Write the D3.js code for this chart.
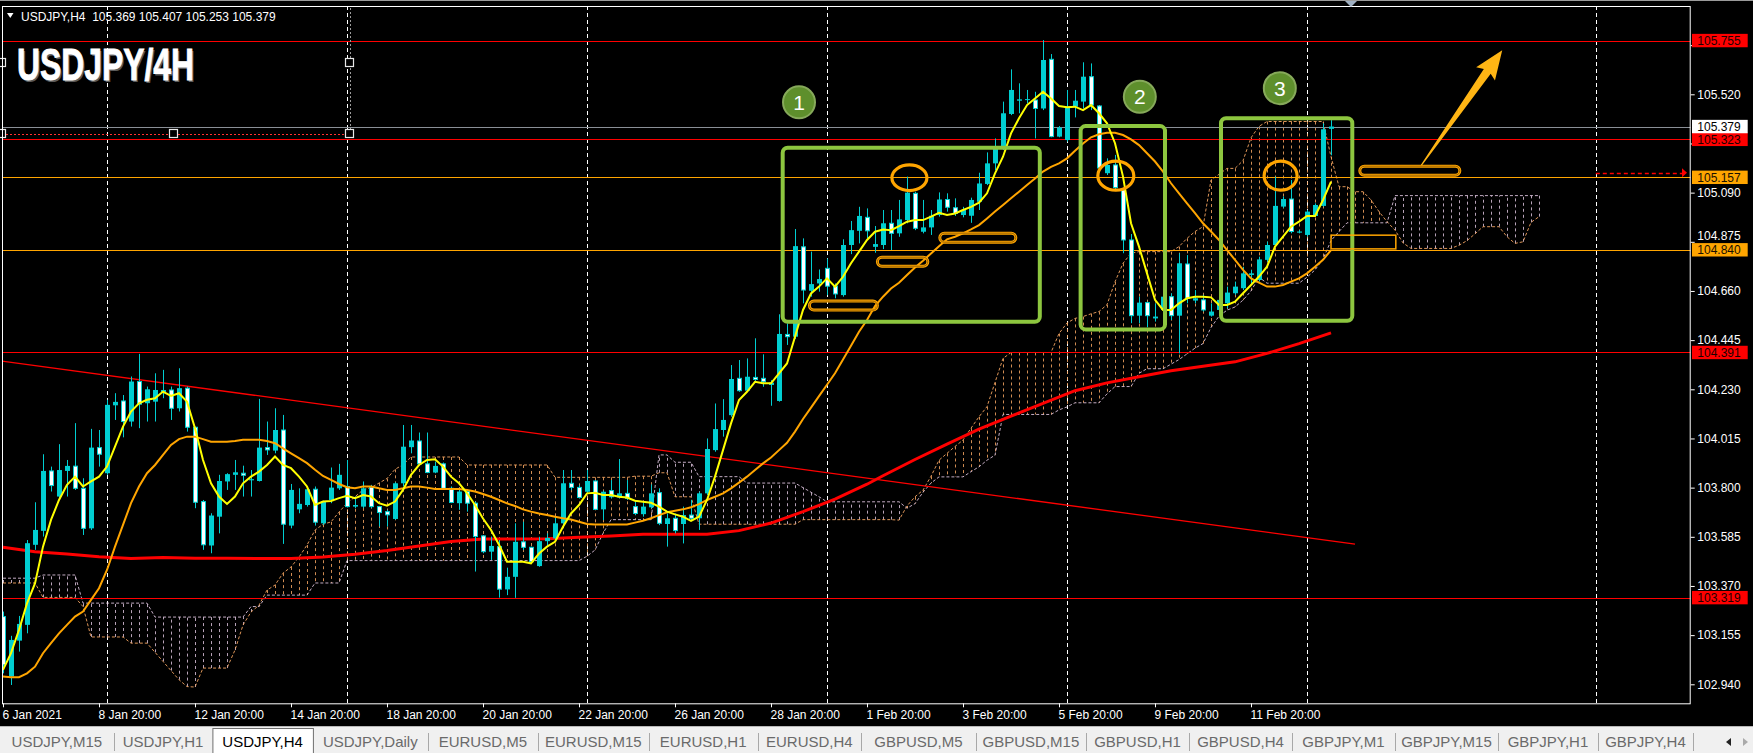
<!DOCTYPE html>
<html><head><meta charset="utf-8">
<script src="https://cdn.jsdelivr.net/npm/d3@7"></script>
<style>body{margin:0;background:#000;overflow:hidden}svg{display:block}</style>
</head><body>
<svg id="c" width="1753" height="753"></svg>
<script>
// ---------------- DATA ----------------
const symbol = "USDJPY,H4";
const opens=[103.236,102.974,103.131,103.200,103.550,103.611,103.873,103.761,103.873,103.894,
103.797,103.622,103.975,103.863,104.160,104.179,104.089,104.264,104.169,104.176,
104.213,104.227,104.147,104.235,104.064,103.739,103.547,103.673,103.827,103.856,
103.863,103.832,103.829,103.975,103.962,104.052,103.634,103.705,103.724,103.793,
103.644,103.746,103.797,103.805,103.717,103.717,103.802,103.717,103.695,103.663,
103.819,103.977,104.004,103.904,103.866,103.904,103.797,103.732,103.783,103.732,
103.589,103.520,103.542,103.355,103.410,103.563,103.539,103.457,103.566,103.578,
103.644,103.819,103.801,103.782,103.829,103.705,103.787,103.757,103.775,103.717,
103.684,103.714,103.778,103.641,103.666,103.641,103.680,103.666,103.775,103.964,
104.052,104.117,104.278,104.224,104.282,104.278,104.249,104.179,104.470,104.460,
104.853,104.661,104.693,104.759,104.681,104.642,104.861,104.923,104.982,104.853,
104.861,104.956,104.912,104.970,105.087,104.919,104.938,104.992,105.060,105.024,
104.992,104.989,105.050,105.128,105.218,105.284,105.434,105.492,105.496,105.495,
105.458,105.673,105.335,105.320,105.466,105.488,105.597,105.469,105.175,105.211,
105.102,104.883,104.552,104.609,104.540,104.577,104.635,104.552,104.778,104.618,
104.621,104.552,104.577,104.606,104.650,104.672,104.730,104.708,104.796,104.861,
105.029,105.062,104.915,104.905,104.988,105.032,105.369];
const highs=[103.258,103.152,103.239,103.571,103.736,103.946,103.892,103.990,103.921,104.082,
103.841,104.057,104.052,104.184,104.213,104.205,104.286,104.385,104.242,104.300,
104.315,104.242,104.322,104.242,104.067,103.746,103.688,103.856,103.863,103.921,
103.896,103.877,104.188,104.089,104.147,104.118,103.816,103.797,103.797,103.805,
103.743,103.888,103.904,103.921,103.761,103.827,103.812,103.720,103.703,103.824,
104.074,104.074,104.041,104.041,103.914,103.910,103.805,103.790,103.790,103.739,
103.593,103.586,103.571,103.450,103.644,103.651,103.542,103.585,103.600,103.673,
103.877,103.877,103.811,103.877,103.833,103.787,103.833,103.925,103.833,103.738,
103.738,103.814,103.797,103.687,103.687,103.717,103.746,103.782,104.015,104.168,
104.187,104.336,104.358,104.365,104.453,104.383,104.270,104.558,104.518,104.931,
104.890,104.832,104.754,104.802,104.693,104.886,104.966,105.028,105.021,104.944,
105.014,105.014,105.058,105.160,105.094,105.058,105.014,105.091,105.087,105.065,
105.028,105.068,105.177,105.266,105.327,105.488,105.629,105.568,105.539,105.531,
105.757,105.696,105.381,105.539,105.539,105.660,105.655,105.473,105.240,105.255,
105.109,104.909,104.635,104.613,104.606,104.650,104.650,104.825,104.817,104.664,
104.643,104.606,104.635,104.679,104.701,104.766,104.752,104.810,104.876,105.160,
105.073,105.145,104.927,105.014,105.043,105.393,105.407];
const lows=[102.988,102.937,103.083,103.163,103.528,103.586,103.783,103.746,103.761,103.790,
103.593,103.615,103.892,103.856,104.096,104.020,104.067,104.060,104.089,104.089,
104.191,104.096,104.133,104.045,103.710,103.528,103.513,103.600,103.790,103.790,
103.761,103.761,103.827,103.943,103.950,103.554,103.622,103.688,103.717,103.634,
103.637,103.732,103.790,103.713,103.710,103.710,103.710,103.630,103.630,103.659,
103.805,103.950,103.899,103.863,103.863,103.790,103.732,103.703,103.695,103.433,
103.513,103.484,103.319,103.330,103.318,103.527,103.469,103.454,103.540,103.571,
103.629,103.789,103.753,103.775,103.702,103.658,103.753,103.753,103.746,103.680,
103.673,103.709,103.636,103.542,103.600,103.556,103.658,103.615,103.768,103.957,
104.023,104.110,104.219,104.219,104.263,104.241,104.158,104.176,104.424,104.450,
104.606,104.635,104.657,104.642,104.628,104.635,104.821,104.868,104.890,104.827,
104.843,104.839,104.897,104.956,104.926,104.912,104.905,104.985,105.007,104.988,
104.982,104.958,105.014,105.123,105.189,105.276,105.429,105.437,105.480,105.327,
105.451,105.332,105.332,105.313,105.419,105.458,105.451,105.189,105.167,105.102,
104.825,104.519,104.519,104.501,104.526,104.519,104.533,104.387,104.606,104.606,
104.570,104.548,104.570,104.584,104.643,104.664,104.686,104.701,104.788,104.854,
105.022,104.912,104.912,104.898,104.985,105.029,105.253];
const closes=[103.025,103.134,103.204,103.557,103.615,103.873,103.809,103.877,103.895,103.797,
103.622,103.975,103.946,104.162,104.175,104.089,104.264,104.165,104.230,104.227,
104.227,104.147,104.235,104.064,103.736,103.550,103.678,103.829,103.859,103.867,
103.854,103.837,103.975,103.965,104.052,103.640,103.790,103.729,103.793,103.649,
103.739,103.800,103.856,103.717,103.724,103.797,103.717,103.691,103.681,103.819,
103.979,104.006,103.904,103.866,103.895,103.797,103.735,103.783,103.732,103.586,
103.520,103.545,103.356,103.410,103.563,103.539,103.476,103.566,103.580,103.644,
103.819,103.801,103.757,103.829,103.705,103.782,103.760,103.775,103.753,103.687,
103.717,103.775,103.644,103.666,103.612,103.680,103.666,103.775,103.969,104.056,
104.096,104.275,104.224,104.285,104.273,104.263,104.259,104.472,104.460,104.856,
104.664,104.690,104.712,104.681,104.647,104.861,104.926,104.988,104.923,104.865,
104.956,104.912,104.973,105.090,104.934,104.938,104.989,105.060,105.026,104.999,
105.014,105.058,105.130,105.218,105.291,105.437,105.539,105.498,105.499,105.458,
105.670,105.335,105.375,105.466,105.492,105.597,105.473,105.198,105.211,105.112,
104.883,104.552,104.609,104.552,104.548,104.635,104.552,104.781,104.628,104.628,
104.577,104.570,104.621,104.653,104.679,104.737,104.737,104.798,104.861,105.032,
105.062,104.920,104.920,105.007,105.036,105.367,105.379];

const maFast=[103.003,103.076,103.178,103.294,103.381,103.542,103.659,103.746,103.812,103.848,
103.805,103.827,103.848,103.892,103.979,104.067,104.133,104.169,104.184,104.191,
104.220,104.201,104.213,104.176,104.060,103.921,103.819,103.761,103.729,103.761,
103.819,103.848,103.870,103.899,103.936,103.899,103.885,103.848,103.805,103.724,
103.739,103.742,103.754,103.764,103.754,103.768,103.761,103.732,103.721,103.739,
103.790,103.856,103.899,103.921,103.924,103.892,103.848,103.819,103.776,103.724,
103.665,103.615,103.550,103.476,103.476,103.476,103.469,103.512,103.542,103.563,
103.629,103.687,103.724,103.775,103.778,103.768,103.768,103.760,103.757,103.743,
103.738,103.734,103.717,103.695,103.683,103.673,103.655,103.673,103.746,103.848,
103.964,104.081,104.183,104.219,104.263,104.256,104.256,104.300,104.343,104.460,
104.577,104.649,104.679,104.715,104.679,104.722,104.781,104.832,104.883,104.919,
104.929,104.926,104.944,104.963,104.970,104.970,104.985,105.002,104.992,104.999,
105.014,105.028,105.046,105.087,105.174,105.247,105.349,105.415,105.473,105.502,
105.531,105.502,105.469,105.463,105.466,105.451,105.473,105.437,105.393,105.306,
105.160,104.956,104.854,104.737,104.621,104.577,104.577,104.606,104.628,104.635,
104.635,104.632,104.599,104.599,104.613,104.650,104.686,104.723,104.766,104.854,
104.898,104.941,104.963,104.988,104.988,105.058,105.138];
const maMid=[102.974,102.971,102.971,102.988,103.017,103.076,103.120,103.163,103.200,103.236,
103.258,103.309,103.360,103.440,103.542,103.637,103.732,103.805,103.863,103.899,
103.943,103.987,104.012,104.023,104.023,104.012,104.001,104.001,104.001,104.004,
104.009,104.009,104.009,104.004,103.994,103.972,103.950,103.929,103.907,103.878,
103.851,103.834,103.816,103.802,103.797,103.805,103.805,103.797,103.790,103.790,
103.797,103.805,103.805,103.800,103.794,103.794,103.794,103.794,103.790,103.783,
103.772,103.760,103.746,103.731,103.720,103.705,103.695,103.687,103.680,103.673,
103.666,103.661,103.651,103.641,103.639,103.639,103.639,103.639,103.639,103.647,
103.655,103.666,103.680,103.692,103.699,103.705,103.714,103.728,103.746,103.760,
103.775,103.797,103.822,103.848,103.877,103.906,103.932,103.964,103.996,104.045,
104.100,104.150,104.200,104.250,104.300,104.360,104.420,104.482,104.533,104.594,
104.635,104.671,104.696,104.730,104.763,104.792,104.824,104.856,104.886,104.897,
104.912,104.929,104.948,104.977,105.007,105.036,105.065,105.094,105.123,105.152,
105.182,105.203,105.218,105.240,105.273,105.305,105.332,105.345,105.352,105.352,
105.342,105.323,105.298,105.262,105.226,105.182,105.131,105.087,105.043,105.000,
104.956,104.920,104.883,104.839,104.796,104.752,104.715,104.696,104.679,104.679,
104.686,104.701,104.715,104.737,104.766,104.796,104.839];
const maSlowBars=[0,4,8,12,16,20,24,28,32,36,40,44,48,52,56,60,64,68,72,76,80,84,88,92,96,100,104,108,110,114,118,122,126,130,134,138,142,146,150,154,158,162,166];
const maSlow=[103.539,103.520,103.510,103.498,103.490,103.494,103.491,103.491,103.490,103.490,103.497,103.509,103.525,103.545,103.564,103.575,103.575,103.577,103.583,103.588,103.596,103.596,103.596,103.612,103.645,103.695,103.750,103.815,103.852,103.923,103.990,104.056,104.113,104.168,104.224,104.258,104.285,104.311,104.331,104.350,104.387,104.430,104.477];

// Ichimoku senkou spans, bar 0 .. 192 (26 bars projected ahead)
const spanA=[103.383,103.383,103.383,103.383,103.383,103.32,103.32,103.32,103.32,103.32,
103.28,103.147,103.147,103.147,103.147,103.147,103.12,103.12,103.12,103.08,
103.04,103.00,102.96,102.93,102.928,103.011,103.011,103.011,103.011,103.09,
103.199,103.256,103.286,103.352,103.374,103.426,103.453,103.496,103.549,103.614,
103.640,103.650,103.693,103.732,103.76,103.79,103.80,103.82,103.84,103.88,
103.90,103.934,103.934,103.934,103.934,103.934,103.934,103.934,103.899,103.899,
103.899,103.899,103.899,103.899,103.899,103.899,103.899,103.899,103.899,103.845,
103.845,103.845,103.845,103.845,103.845,103.845,103.845,103.845,103.845,103.85,
103.85,103.85,103.865,103.865,103.76,103.76,103.76,103.64,103.64,103.64,
103.64,103.64,103.64,103.64,103.64,103.64,103.64,103.64,103.64,103.64,
103.66,103.66,103.66,103.66,103.66,103.66,103.66,103.66,103.66,103.66,
103.66,103.66,103.658,103.72,103.76,103.789,103.85,103.92,103.95,103.98,
104.008,104.06,104.11,104.154,104.26,104.365,104.391,104.391,104.391,104.391,
104.391,104.391,104.474,104.52,104.54,104.548,104.56,104.57,104.60,104.70,
104.781,104.825,104.832,104.832,104.832,104.832,104.832,104.854,104.89,104.92,
104.941,105.145,105.17,105.196,105.196,105.23,105.33,105.38,105.401,105.401,
105.401,105.401,105.401,105.401,105.401,105.401,105.247,105.116,105.116,105.094,
105.094,105.058,105.007,104.963,104.926,104.87,104.846,104.846,104.846,104.846,
104.846,104.846,104.86,104.88,104.91,104.941,104.941,104.941,104.897,104.868,
104.875,104.96,104.985];
const spanB=[103.404,103.404,103.404,103.404,103.404,103.418,103.418,103.418,103.418,103.418,
103.295,103.295,103.295,103.295,103.295,103.295,103.295,103.295,103.295,103.234,
103.234,103.234,103.234,103.234,103.234,103.234,103.234,103.234,103.234,103.234,
103.234,103.28,103.28,103.330,103.330,103.330,103.330,103.330,103.330,103.383,
103.383,103.383,103.383,103.481,103.481,103.481,103.481,103.481,103.481,103.481,
103.481,103.481,103.481,103.481,103.481,103.481,103.481,103.481,103.481,103.481,
103.481,103.481,103.481,103.481,103.481,103.481,103.481,103.481,103.481,103.481,
103.481,103.481,103.481,103.50,103.527,103.60,103.66,103.66,103.66,103.66,
103.66,103.66,103.943,103.943,103.911,103.911,103.911,103.848,103.848,103.848,
103.848,103.848,103.848,103.82,103.82,103.82,103.82,103.82,103.82,103.82,
103.80,103.78,103.76,103.738,103.738,103.738,103.738,103.738,103.738,103.738,
103.738,103.738,103.738,103.71,103.73,103.78,103.82,103.847,103.847,103.847,
103.847,103.87,103.891,103.92,103.942,104.12,104.12,104.12,104.12,104.12,
104.12,104.12,104.14,104.153,104.171,104.171,104.171,104.171,104.21,104.242,
104.242,104.242,104.30,104.32,104.32,104.32,104.34,104.36,104.385,104.41,
104.43,104.50,104.55,104.576,104.59,104.62,104.66,104.72,104.694,104.694,
104.694,104.694,104.694,104.72,104.752,104.80,104.88,104.92,104.958,104.958,
104.958,104.958,104.958,104.958,105.077,105.077,105.077,105.077,105.077,105.077,
105.077,105.077,105.077,105.077,105.077,105.077,105.077,105.077,105.077,105.077,
105.077,105.077,105.077];

const yTicks=[102.940,103.155,103.370,103.585,103.800,104.015,104.230,104.445,104.660,104.875,105.090,105.305,105.520,105.735];
const yTicksCovered=[105.305,105.735];   // hidden under the price labels
const xTickBars=[0,12,24,36,48,60,72,84,96,108,120,132,144,156];
const xTickLabels=["6 Jan 2021","8 Jan 20:00","12 Jan 20:00","14 Jan 20:00","18 Jan 20:00","20 Jan 20:00","22 Jan 20:00","26 Jan 20:00","28 Jan 20:00","1 Feb 20:00","3 Feb 20:00","5 Feb 20:00","9 Feb 20:00","11 Feb 20:00"];
const gridBars=[13,43,73,103,133,163,199.1];
const redLevels=[105.755,105.323,104.391,103.319];
const orangeLevels=[105.157,104.840];
const alertPrice=105.177, alertBars=[199.1,210.5];
const trendBars=[-0.5,169], trendPrices=[104.355,103.553];
const selBars=[-0.1,21.4,43.4], selPrices=[105.658,105.346];
// annotations (bar index / price)
const zoneBars=[[97.46,129.6],[134.7,145.25],[152.25,168.66]];
const zonePrices=[[105.286,104.525],[105.381,104.492],[105.415,104.530]];
const badgeLabels=["1","2","3"], badgeBars=[99.5,142.1,159.6], badgePrices=[105.485,105.509,105.547];
const ringBars=[113.3,139.1,159.7], ringPrices=[105.155,105.164,105.164];
const pillStart=[100.8,109.3,117.1,169.6], pillEnd=[109.3,115.6,126.6,182.1], pillPrices=[104.596,104.788,104.893,105.186];
const boxBars=[166,174.1], boxPrices=[104.904,104.844];
const arrowBars=[177.3,187.4], arrowPrices=[105.210,105.713];
const tabNames=["USDJPY,M15","USDJPY,H1","USDJPY,H4","USDJPY,Daily","EURUSD,M5","EURUSD,M15","EURUSD,H1","EURUSD,H4","GBPUSD,M5","GBPUSD,M15","GBPUSD,H1","GBPUSD,H4","GBPJPY,M1","GBPJPY,M15","GBPJPY,H1","GBPJPY,H4"];
const activeTab=2;

// ---------------- LAYOUT ----------------
const L=2, R=1690.7, T=6, B=703.3;
const x=d3.scaleLinear().domain([0,210.96]).range([3,1690.7]);
const y=d3.scaleLinear().domain([102.94,105.52]).range([684.3,94.3]);
const FONT="'Liberation Sans',Arial,sans-serif";
const svg=d3.select('#c');
svg.append('rect').attr('width',1753).attr('height',753).attr('fill','#000');
svg.append('clipPath').attr('id','clip').append('rect').attr('x',L).attr('y',T).attr('width',R-L).attr('height',B-T);
const g=svg.append('g').attr('clip-path','url(#clip)');
const px=v=>Math.round(x(v))+0.5;

// grid verticals
g.selectAll('.grid').data(gridBars).join('line')
 .attr('x1',d=>px(d)).attr('x2',d=>px(d)).attr('y1',T).attr('y2',B)
 .attr('stroke','#fff').attr('stroke-dasharray','4,3');

// Ichimoku cloud
const cIdx=d3.range(spanA.length);
g.selectAll('.hatch').data(cIdx).join('line')
 .attr('x1',i=>px(i)).attr('x2',i=>px(i))
 .attr('y1',i=>y(spanA[i])).attr('y2',i=>y(spanB[i]))
 .attr('stroke',i=>spanA[i]>=spanB[i]?'#F4A460':'#D8BFD8')
 .attr('stroke-opacity',0.85).attr('stroke-dasharray','3,3');
const lineIdx=d3.line().x((d,i)=>x(i)).y(d=>y(d));
g.append('path').attr('d',lineIdx(spanA)).attr('fill','none').attr('stroke','#F4A460').attr('stroke-opacity',0.9).attr('stroke-dasharray','3,2');
g.append('path').attr('d',lineIdx(spanB)).attr('fill','none').attr('stroke','#D8BFD8').attr('stroke-opacity',0.9).attr('stroke-dasharray','3,2');

// horizontal levels
g.selectAll('.rl').data(redLevels).join('line').attr('x1',L).attr('x2',R)
 .attr('y1',d=>Math.round(y(d))+0.5).attr('y2',d=>Math.round(y(d))+0.5).attr('stroke','#ff0000');
g.selectAll('.ol').data(orangeLevels).join('line').attr('x1',L).attr('x2',R)
 .attr('y1',d=>Math.round(y(d))+0.5).attr('y2',d=>Math.round(y(d))+0.5).attr('stroke','#ffa500');
const bid=closes[closes.length-1];
g.append('line').attr('x1',L).attr('x2',R).attr('y1',Math.round(y(bid))+0.5).attr('y2',Math.round(y(bid))+0.5).attr('stroke','#8a8f96');

// trendline
g.append('line').attr('x1',x(trendBars[0])).attr('x2',x(trendBars[1]))
 .attr('y1',y(trendPrices[0])).attr('y2',y(trendPrices[1])).attr('stroke','#ff0000').attr('stroke-width',1.3);

// slow MA
const lineXY=d3.line().x(d=>x(d[0])).y(d=>y(d[1]));
g.append('path').attr('d',lineXY(maSlowBars.map((b,i)=>[b,maSlow[i]]))).attr('fill','none').attr('stroke','#ff0000').attr('stroke-width',3);

// candles
const bars=d3.range(opens.length);
g.selectAll('.wick').data(bars).join('line')
 .attr('x1',i=>px(i)).attr('x2',i=>px(i)).attr('y1',i=>y(highs[i])).attr('y2',i=>y(lows[i]))
 .attr('stroke','#00CED1');
g.selectAll('.body').data(bars).join('rect')
 .attr('x',i=>closes[i]>=opens[i]?Math.round(x(i))-2:Math.round(x(i))-1.5)
 .attr('width',i=>closes[i]>=opens[i]?5:4)
 .attr('y',i=>Math.min(y(opens[i]),y(closes[i])))
 .attr('height',i=>Math.max(1,Math.abs(y(opens[i])-y(closes[i]))))
 .attr('fill',i=>closes[i]>=opens[i]?'#00CED1':'#ffffff')
 .attr('stroke',i=>closes[i]>=opens[i]?'none':'#00CED1');

// MAs
g.append('path').attr('d',lineIdx(maMid)).attr('fill','none').attr('stroke','#FFA500').attr('stroke-width',2);
g.append('path').attr('d',lineIdx(maFast)).attr('fill','none').attr('stroke','#FFFF00').attr('stroke-width',2);

// alert dashed arrow
g.append('line').attr('x1',x(alertBars[0])).attr('x2',x(alertBars[1])-5).attr('y1',Math.round(y(alertPrice))+0.5).attr('y2',Math.round(y(alertPrice))+0.5)
 .attr('stroke','#ff0000').attr('stroke-width',1.3).attr('stroke-dasharray','4,3');
{const ax=x(alertBars[1]), ay=y(alertPrice);
 g.append('path').attr('d',`M${ax-5},${ay-4.5}L${ax},${ay}L${ax-5},${ay+4.5}Z`).attr('fill','#ff0000');}

// selected object (dotted lines + handles)
g.append('line').attr('x1',px(selBars[2])).attr('x2',px(selBars[2])).attr('y1',T-6).attr('y2',y(selPrices[1])).attr('stroke','#9a9a9a').attr('stroke-dasharray','2,2');
g.append('line').attr('x1',L).attr('x2',x(selBars[2])).attr('y1',Math.round(y(selPrices[1]))+0.5).attr('y2',Math.round(y(selPrices[1]))+0.5).attr('stroke','#ff3030').attr('stroke-dasharray','2,2');
const handles=[[selBars[0],selPrices[0]],[selBars[2],selPrices[0]],[selBars[0],selPrices[1]],[selBars[1],selPrices[1]],[selBars[2],selPrices[1]]];
svg.selectAll('.hd').data(handles).join('rect').attr('x',d=>Math.round(x(d[0]))-4.5).attr('y',d=>Math.round(y(d[1]))-4.5)
 .attr('width',8).attr('height',8).attr('fill','#000').attr('stroke','#e8e8e8').attr('stroke-width',1.2);

// annotations
const ann=svg.append('g').attr('clip-path','url(#clip)');
ann.selectAll('.zone').data(zoneBars).join('rect')
 .attr('x',(d,i)=>x(d[0])).attr('width',(d,i)=>x(d[1])-x(d[0]))
 .attr('y',(d,i)=>y(zonePrices[i][0])).attr('height',(d,i)=>y(zonePrices[i][1])-y(zonePrices[i][0]))
 .attr('rx',5).attr('fill','none').attr('stroke','#8DC63F').attr('stroke-width',4);
const ringRx=[17.5,18,16.5], ringRy=[12.8,14.5,14.5];
ann.selectAll('.ring').data(ringBars).join('ellipse')
 .attr('cx',d=>x(d)).attr('cy',(d,i)=>y(ringPrices[i])).attr('rx',(d,i)=>ringRx[i]).attr('ry',(d,i)=>ringRy[i])
 .attr('fill','none').attr('stroke','#FFA500').attr('stroke-width',3.2);
ann.selectAll('.pill').data(pillStart).join('rect')
 .attr('x',(d,i)=>x(d)).attr('width',(d,i)=>x(pillEnd[i])-x(d))
 .attr('y',(d,i)=>y(pillPrices[i])-4.5).attr('height',9).attr('rx',4.5)
 .attr('fill','none').attr('stroke','#FFA500').attr('stroke-width',3);
ann.selectAll('.pill2').data(pillStart).join('rect')
 .attr('x',(d,i)=>x(d)).attr('width',(d,i)=>x(pillEnd[i])-x(d))
 .attr('y',(d,i)=>y(pillPrices[i])-4.5).attr('height',9).attr('rx',4.5)
 .attr('fill','none').attr('stroke','#9a6400').attr('stroke-width',1);
ann.append('rect').attr('x',x(boxBars[0])).attr('width',x(boxBars[1])-x(boxBars[0]))
 .attr('y',y(boxPrices[0])).attr('height',y(boxPrices[1])-y(boxPrices[0]))
 .attr('fill','none').attr('stroke','#FFA500').attr('stroke-width',1.5);
{// arrow
 const x0=x(arrowBars[0]), y0=y(arrowPrices[0]), x1=x(arrowBars[1]), y1=y(arrowPrices[1]);
 const dx=x1-x0, dy=y1-y0, len=Math.hypot(dx,dy), ux=dx/len, uy=dy/len, nx=-uy, ny=ux;
 const hb=26, hw=11.5, sw=4.2;
 const bx=x1-ux*hb, by=y1-uy*hb;
 const pts=[[x0+nx*0.6,y0+ny*0.6],[bx+nx*sw,by+ny*sw],[bx+nx*hw-ux*3,by+ny*hw-uy*3],[x1,y1],[bx-nx*hw-ux*3,by-ny*hw-uy*3],[bx-nx*sw,by-ny*sw],[x0-nx*0.6,y0-ny*0.6]];
 ann.append('path').attr('d','M'+pts.map(p=>p.join(',')).join('L')+'Z').attr('fill','#FFB514');
}
const badge=ann.selectAll('.badge').data(badgeLabels).join('g')
 .attr('transform',(d,i)=>`translate(${x(badgeBars[i])},${y(badgePrices[i])})`);
badge.append('circle').attr('r',16).attr('fill','#5E8F2C').attr('stroke','#86A95A').attr('stroke-width',2);
badge.append('text').text(d=>d).attr('text-anchor','middle').attr('dy','0.36em')
 .attr('fill','#fff').attr('font-family',FONT).attr('font-size',21);

// frame
svg.append('rect').attr('x',L+0.5).attr('y',T+0.5).attr('width',R-L-1).attr('height',B-T).attr('fill','none').attr('stroke','#fff');
svg.append('line').attr('x1',0).attr('x2',1753).attr('y1',0.5).attr('y2',0.5).attr('stroke','#9a9a9a');
svg.append('path').attr('d','M1345,1L1357,1L1351,7Z').attr('fill','#9fb0c3');

// y axis (labels hidden under the price boxes are left as tick marks only)
const yAxis=d3.axisRight(y).tickValues(yTicks).tickSize(4).tickPadding(2.6)
 .tickFormat(d=>yTicksCovered.includes(d)?'':d3.format('.3f')(d));
const ya=svg.append('g').attr('transform',`translate(${R},0)`).call(yAxis);
ya.select('.domain').remove();
ya.selectAll('line').attr('stroke','#fff');
ya.selectAll('text').attr('fill','#fff').attr('font-family',FONT).attr('font-size',12)
 .attr('dy',d=>Math.abs(d-104.875)<1e-6?'-0.18em':'0.32em');

// price labels
function plabel(p,bg,fg){
  const yy=y(p);
  svg.append('rect').attr('x',1692).attr('y',yy-6.7).attr('width',55.7).attr('height',13.4).attr('fill',bg);
  svg.append('text').text(d3.format('.3f')(p)).attr('x',1697.3).attr('y',yy).attr('dy','0.36em')
   .attr('fill',fg).attr('font-family',FONT).attr('font-size',12);
}
redLevels.forEach(p=>plabel(p,'#ff0000','#1a0000'));
orangeLevels.forEach(p=>plabel(p,'#ffa500','#1a1000'));
plabel(bid,'#ffffff','#000');

// x axis
const xAxis=d3.axisBottom(x).tickValues(xTickBars).tickSize(4).tickFormat((d,i)=>xTickLabels[i]);
const xa=svg.append('g').attr('transform',`translate(0,${B})`).call(xAxis);
xa.select('.domain').remove();
xa.selectAll('line').attr('stroke','#fff');
xa.selectAll('text').attr('fill','#fff').attr('font-family',FONT).attr('font-size',12)
 .attr('text-anchor','start').attr('x',-1).attr('y',15.8).attr('dy',0);

// header
svg.append('path').attr('d','M7,13L13.5,13L10.25,18Z').attr('fill','#fff');
const last=opens.length-1;
svg.append('text').attr('x',21).attr('y',20.5).attr('fill','#fff').attr('font-family',FONT).attr('font-size',12)
 .style('white-space','pre')
 .text(`${symbol}  ${opens[last].toFixed(3)} ${highs[last].toFixed(3)} ${lows[last].toFixed(3)} ${closes[last].toFixed(3)}`);
const TF="'Liberation Sans Narrow','Liberation Sans',Arial,sans-serif";
svg.append('text').text('USDJPY/4H').attr('x',18.5).attr('y',81.5).attr('fill','#5a5a5a')
 .attr('font-family',TF).attr('font-weight','bold').attr('font-size',45).attr('textLength',177).attr('lengthAdjust','spacingAndGlyphs');
svg.append('text').text('USDJPY/4H').attr('x',17).attr('y',80).attr('fill','#fff').attr('stroke','#fff').attr('stroke-width',0.9)
 .attr('font-family',TF).attr('font-weight','bold').attr('font-size',45).attr('textLength',177).attr('lengthAdjust','spacingAndGlyphs');

// tab bar
const tabEdges=[0,113.7,212.4,312.9,427.7,538,648.7,757.7,861,975.8,1086,1189,1292,1395,1498,1598,1693];
const tb=svg.append('g');
tb.append('rect').attr('x',0).attr('y',726).attr('width',1753).attr('height',27).attr('fill','#F0F0F0');
tb.append('line').attr('x1',0).attr('x2',1753).attr('y1',726.5).attr('y2',726.5).attr('stroke','#b8b8b8');
tb.append('rect').attr('x',tabEdges[activeTab]+0.5).attr('y',728.5).attr('width',tabEdges[activeTab+1]-tabEdges[activeTab]).attr('height',26)
 .attr('fill','#fff').attr('stroke','#6f6f6f');
tb.selectAll('.sep').data(tabEdges.slice(1).filter((d,i)=>i!==activeTab-1&&i!==activeTab)).join('line')
 .attr('x1',d=>Math.round(d)+0.5).attr('x2',d=>Math.round(d)+0.5).attr('y1',733).attr('y2',751).attr('stroke','#a8a8a8');
tb.selectAll('.tab').data(tabNames).join('text').text(d=>d)
 .attr('x',(d,i)=>(tabEdges[i]+tabEdges[i+1])/2).attr('y',747).attr('text-anchor','middle')
 .attr('font-family',TF).attr('font-size',15).attr('fill',(d,i)=>i===activeTab?'#000':'#6a6a6a');
tb.append('path').attr('d','M1726,742L1731,738L1731,746Z').attr('fill','#222');
tb.append('path').attr('d','M1743,738L1748,742L1743,746Z').attr('fill','#aaa');
</script>
</body></html>
